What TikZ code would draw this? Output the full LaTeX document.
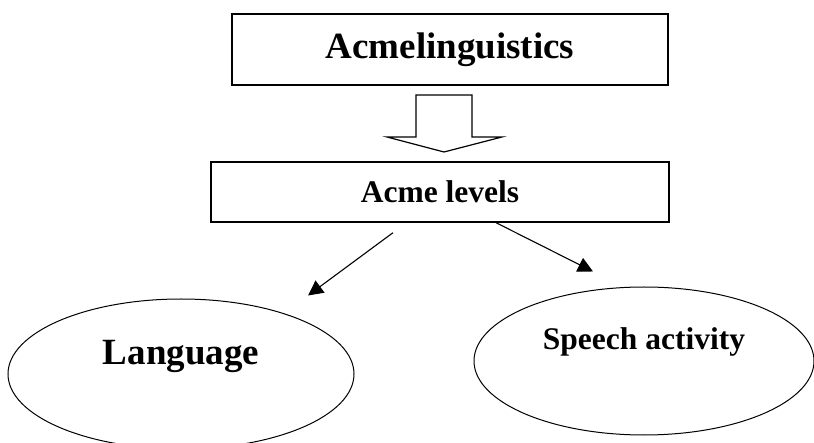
\documentclass[tikz,border=0pt]{standalone}
\usepackage{fontspec}
\setmainfont{Liberation Serif}
\usetikzlibrary{arrows.meta, shapes.geometric}

\begin{document}
\begin{tikzpicture}[
  % one unit is one pixel of the page, y runs downwards
  x=1pt, y=-1pt,
  >={Triangle[length=15pt, width=15pt]},
  big/.style={font=\bfseries\fontsize{37}{40}\selectfont},
  small/.style={font=\bfseries\fontsize{31.5}{34}\selectfont},
  box/.style={draw, line width=1.4pt, inner sep=0pt, align=center},
  oval/.style={ellipse, draw, line width=1pt, inner sep=0pt},
  arr/.style={->, line width=1.1pt},
]
  \useasboundingbox (0,0) rectangle (814,443);

  % --- the two boxes ---
  \node[box, big, minimum width=436pt, minimum height=71pt] (acme) at (450,49.5)
    {Acmelinguistics};
  \node[box, small, minimum width=458pt, minimum height=60pt] (levels) at (440,192)
    {Acme levels};

  % --- hollow block arrow between them ---
  \draw[line width=1.2pt] (416,95) -- (472,95) -- (472,137) -- (502,137)
    -- (444,152) -- (387,137) -- (416,137) -- cycle;

  % --- the two ovals, text sitting above centre ---
  \node[oval, minimum width=346pt, minimum height=150pt] (lang) at (181,374) {};
  \node[big] (langtext) at ([yshift=17.5pt]lang.center) {Language};
  \node[oval, minimum width=340pt, minimum height=148pt] (speech) at (644,361) {};
  \node[small] (speechtext) at ([yshift=19.3pt]speech.center) {Speech activity};

  % --- arrows down to the ovals ---
  \draw[arr] ([xshift=-47pt, yshift=-10pt]levels.south) -- ([xshift=127pt, yshift=3pt]lang.north);
  \draw[arr] ([xshift=56pt]levels.south) -- ([xshift=-51pt, yshift=15pt]speech.north);
\end{tikzpicture}
\end{document}
